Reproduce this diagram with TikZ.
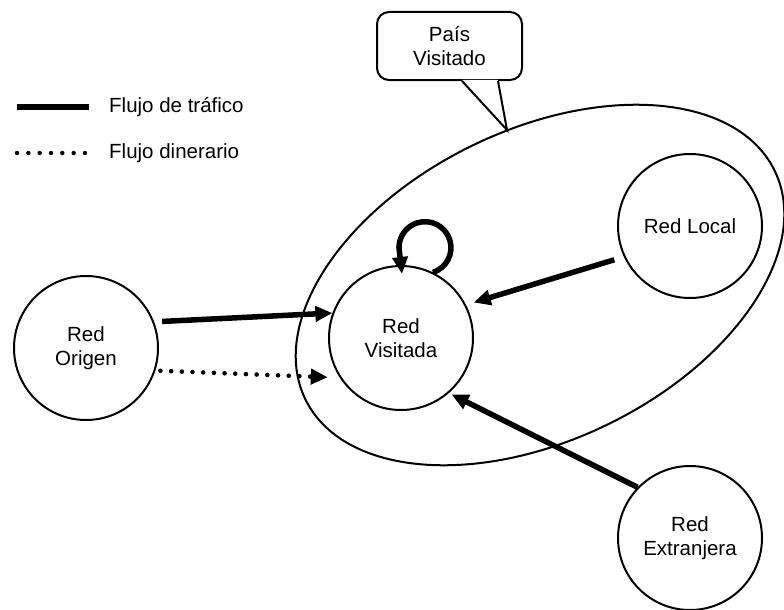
\documentclass[tikz,border=0pt]{standalone}
\usepackage{fontspec}
\setmainfont{Liberation Sans}
\usetikzlibrary{arrows.meta,shapes.geometric}
\begin{document}
\begin{tikzpicture}[x=1pt,y=1pt,
  txt/.style={font=\fontsize{20.5}{23.5}\selectfont},
  net/.style={circle,draw,line width=2pt,fill=white,minimum size=144pt,inner sep=0pt,align=center,txt},
  tiparrow/.style={-{Triangle[length=17pt,width=15pt]}},
  traffic/.style={line width=5.5pt,tiparrow},
  money/.style={line width=4.6pt,line cap=round,dash pattern=on 0pt off 10.7pt,tiparrow},
  thinline/.style={line width=2pt},
  legtext/.style={txt,anchor=west,inner sep=0pt},
]
\useasboundingbox (0,0) rectangle (784,-610);

% legend
\node[legtext] (l1) at (109,-107) {Flujo de tráfico};
\node[legtext] (l2) at (109,-153) {Flujo dinerario};
\draw[line width=6pt] ([xshift=-92pt]l1.west) -- ([xshift=-20pt]l1.west);
\draw[line width=4.4pt,line cap=round,dash pattern=on 0pt off 11.33pt] ([xshift=-92pt]l2.west) -- ([xshift=-23pt]l2.west);

% callout
\node[draw,thinline,rounded corners=12pt,minimum width=145pt,minimum height=68pt,align=center,txt,inner sep=0pt] (callout) at (449.5,-46) {País\\Visitado};
\coordinate (tailtip) at (507,-130);
\fill[white] ([xshift=12.5pt,yshift=1.2pt]callout.south) -- (tailtip) -- ([xshift=48.5pt,yshift=1.2pt]callout.south) -- cycle;
\draw[thinline] ([xshift=12.5pt]callout.south) -- (tailtip) -- ([xshift=48.5pt]callout.south);

% country ellipse
\node[ellipse,draw,thinline,rotate=26,minimum width=522pt,minimum height=310pt,inner sep=0pt] (pais) at (540,-285) {};

% networks
\node[net] (org) at (86,-348) {Red\\Origen};
\node[net] (vis) at (401,-338) {Red\\Visitada};
\node[net] (loc) at (690,-226) {Red Local};
\node[net] (ext) at (690,-538) {Red\\Extranjera};

% flows
\draw[traffic,shorten <=8pt] (org.21) -- (vis.160);
\draw[money,shorten <=5pt,shorten >=12pt] (org.-18) -- (vis.-147);
\draw[traffic,shorten <=10pt,shorten >=8pt] (loc.205) -- (vis.27);
\draw[traffic,shorten >=3pt] (ext.136) -- (vis.-49);
\draw[traffic] (vis.64) arc[start angle=-72,end angle=180,radius=26] -- ([xshift=1pt,yshift=-9pt]vis.north);
\end{tikzpicture}
\end{document}
